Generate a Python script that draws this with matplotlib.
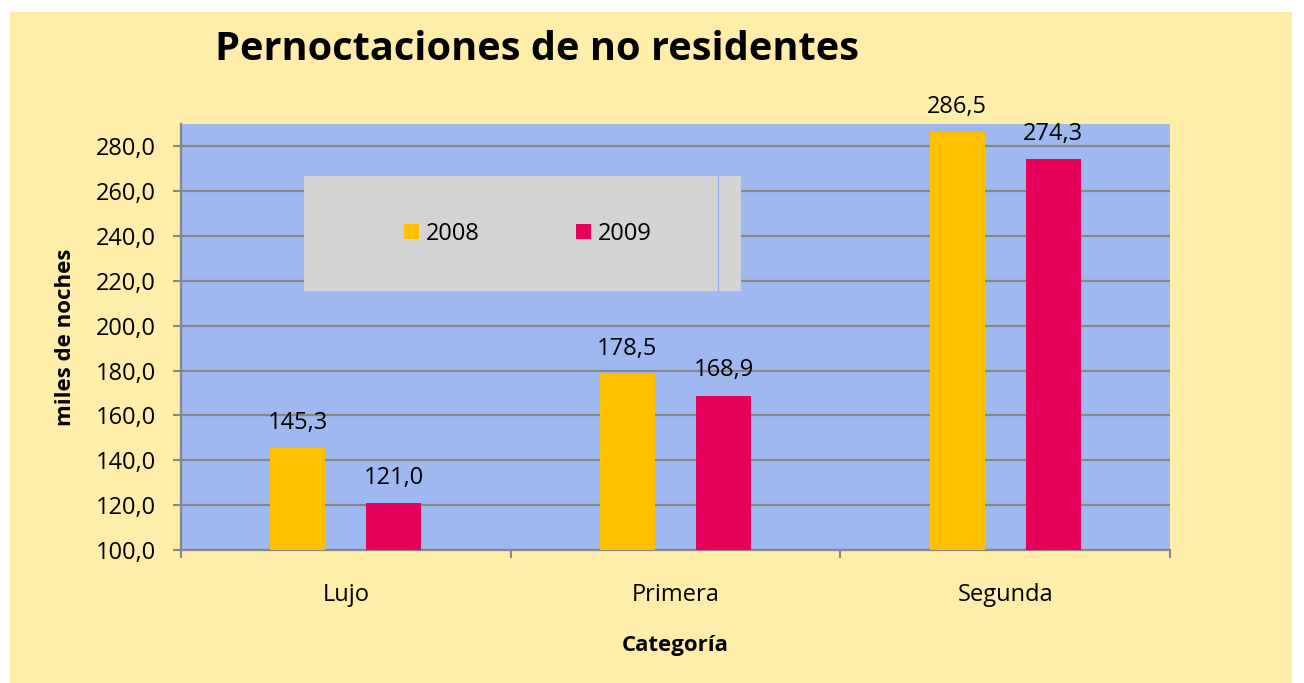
import matplotlib
matplotlib.use("Agg")
import matplotlib.pyplot as plt
from matplotlib.patches import Rectangle, Patch
import numpy as np

categories = ["Lujo", "Primera", "Segunda"]
series_names = ["2008", "2009"]
values_2008 = [145.3, 178.5, 286.5]
values_2009 = [121.0, 168.9, 274.3]
colors = ["#FFC000", "#E6005A"]
yticks = [100, 120, 140, 160, 180, 200, 220, 240, 260, 280]

FONT = ["Open Sans", "DejaVu Sans"]
plt.rcParams["font.family"] = FONT

W, H = 1304, 683
fig = plt.figure(figsize=(W / 100, H / 100), dpi=100)
fig.patch.set_facecolor("white")

def fx(px):
    return px / W

def fy(py):
    return 1 - py / H

FS = 17

# chart background (yellow)
fig.patches.append(Rectangle((fx(10), 0), fx(1292) - fx(10), fy(12), transform=fig.transFigure,
                             facecolor="#FFEDAA", edgecolor="none", zorder=-10))

ax = fig.add_axes([fx(181), fy(550), fx(1170) - fx(181), fy(124) - fy(550)])
ax.set_zorder(1)
ax.set_facecolor("#9FB8F0")

x = np.arange(len(categories))
off = 0.146
bw = 0.167
b1 = ax.bar(x - off, values_2008, width=bw, color=colors[0], zorder=3)
b2 = ax.bar(x + off, values_2009, width=bw, color=colors[1], zorder=3)

for bars, vals in ((b1, values_2008), (b2, values_2009)):
    for rect, v in zip(bars, vals):
        ax.annotate(f"{v:.1f}".replace(".", ","), (rect.get_x() + rect.get_width() / 2, v),
                    xytext=(0, 9.5), textcoords="offset points", ha="center", va="bottom",
                    fontsize=FS, color="black", zorder=5, annotation_clip=False)

ax.set_ylim(100, 290)
ax.set_xlim(-0.5, 2.5)
ax.set_yticks(yticks)
ax.set_yticklabels([f"{t:.1f}".replace(".", ",") for t in yticks], fontsize=FS)
ax.yaxis.grid(True, color="#878787", linewidth=1.6, zorder=1)
ax.set_axisbelow(True)

ax.set_xticks(x)
ax.set_xticklabels(categories, fontsize=FS)
ax.tick_params(axis="x", which="major", length=0, pad=24)
ax.set_xticks([-0.5, 0.5, 1.5, 2.5], minor=True)
ax.tick_params(axis="x", which="minor", length=6, width=1.5, color="#878787")
ax.tick_params(axis="y", length=6, width=1.5, color="#878787", pad=12)

for s in ("top", "right"):
    ax.spines[s].set_visible(False)
for s in ("left", "bottom"):
    ax.spines[s].set_color("#878787")
    ax.spines[s].set_linewidth(1.6)

ax.set_ylabel("miles de noches", fontsize=16, fontweight="bold", labelpad=14)
ax.set_xlabel("Categoría", fontsize=16, fontweight="bold", labelpad=20)

# legend box
fig.patches.append(Rectangle((fx(304), fy(291)), fx(741) - fx(304), fy(176) - fy(291),
                             transform=fig.transFigure, facecolor="#D3D3D3", edgecolor="none", zorder=4))
fig.lines.append(plt.Line2D([fx(718), fx(718)], [fy(291), fy(176)], transform=fig.transFigure,
                            color="#8FA8E8", linewidth=0.8, zorder=5))
handles = [Patch(facecolor=c, edgecolor="none") for c in colors]
leg = fig.legend(handles, series_names, loc="center", bbox_to_anchor=(fx(528), fy(234)),
                 ncol=2, frameon=False, fontsize=FS, handlelength=0.6, handleheight=0.6,
                 handletextpad=0.3, columnspacing=4.1)
leg.set_zorder(6)

fig.text(fx(215), fy(50), "Pernoctaciones de no residentes", fontsize=28.6, fontweight="bold",
         ha="left", va="center")

fig.savefig("out.png", dpi=100, facecolor=fig.get_facecolor())
